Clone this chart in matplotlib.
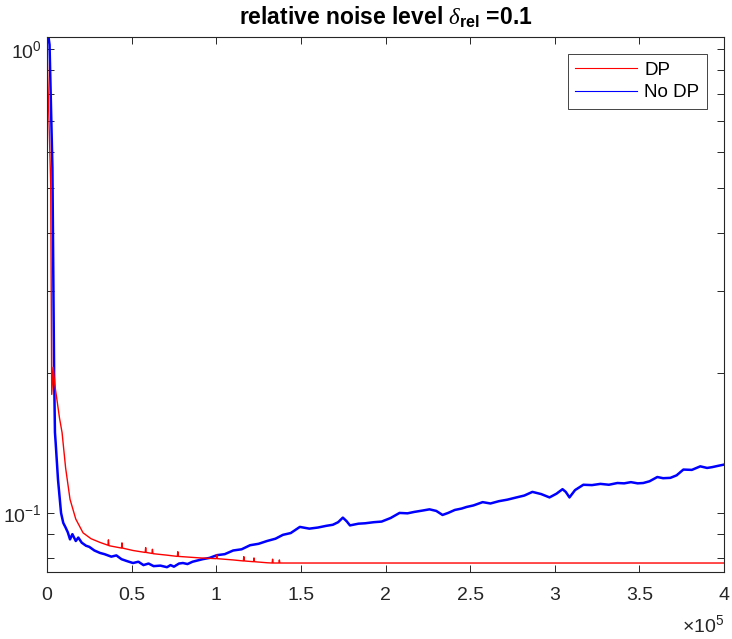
import numpy as np
import matplotlib
matplotlib.use("Agg")
import matplotlib.pyplot as plt
from matplotlib.lines import Line2D
from matplotlib.ticker import FixedLocator, LogLocator, NullFormatter, FixedFormatter

# data (iterations, relative error)
blue_x = [0, 1500, 3200, 4200, 4700, 5100, 6500, 8300, 9600, 11000, 12300, 13600, 15000,
          17000, 18500, 20500, 23000, 25000, 28000, 31300, 34000, 38000, 41000, 44000,
          47000, 50800, 54000, 57000, 60000, 63000, 67000, 70900, 73000, 75000, 78000,
          80300, 83000, 86000, 89000, 92000, 96000, 100400, 105000, 110000, 115000,
          120000, 125000, 130000, 135000, 139400, 144000, 149400, 155000, 160000, 165000,
          168900, 172000, 174800, 177000, 179000, 184000, 188000, 193000, 197700, 203000,
          208300, 213000, 217000, 222000, 226000, 230000, 233700, 237000, 241000, 245000,
          247900, 252000, 257400, 262000, 267000, 272000, 277400, 282000, 286800, 292000,
          296900, 301000, 304600, 306500, 308700, 312000, 316900, 322000, 327000, 332000,
          337000, 341000, 345000, 349000, 352300, 356000, 360600, 364000, 368300, 372000,
          376000, 381000, 386000, 390000, 393000, 396000, 399600]
blue_y = [1.12, 1.02, 0.555, 0.20, 0.149, 0.142, 0.118, 0.100, 0.0952, 0.0930, 0.0908, 0.0877, 0.0900,
          0.0870, 0.0885, 0.0863, 0.0850, 0.0845, 0.0830, 0.0820, 0.0815, 0.0805, 0.0810, 0.0795,
          0.0788, 0.0780, 0.0785, 0.0772, 0.0778, 0.0768, 0.0770, 0.0764, 0.0772, 0.0766, 0.0778,
          0.0780, 0.0776, 0.0785, 0.0790, 0.0795, 0.0800, 0.0811, 0.0815, 0.0830, 0.0835,
          0.0852, 0.0858, 0.0870, 0.0880, 0.0897, 0.0905, 0.0933, 0.0925, 0.0930, 0.0938,
          0.0943, 0.0955, 0.0977, 0.0960, 0.0940, 0.0948, 0.0950, 0.0955, 0.0958, 0.0975,
          0.1000, 0.0998, 0.1005, 0.1012, 0.1018, 0.1010, 0.0990, 0.1000, 0.1015, 0.1022,
          0.1030, 0.1038, 0.1055, 0.1048, 0.1060, 0.1068, 0.1080, 0.1090, 0.1110, 0.1098,
          0.1080, 0.1100, 0.1125, 0.1110, 0.1080, 0.1120, 0.1150, 0.1148, 0.1155, 0.1150,
          0.1160, 0.1158, 0.1165, 0.1158, 0.1160, 0.1170, 0.1195, 0.1188, 0.1190, 0.1205,
          0.1240, 0.1238, 0.1260, 0.1250, 0.1255, 0.1262, 0.1270]

red_x = [0, 2200, 2800, 3700, 4500, 5900, 7400, 8900, 11000, 13600, 17000, 21300, 26000, 31300,
         36000, 36300, 36600, 44000, 44300, 44600, 50800, 58000, 58300, 58600,
         62000, 62300, 62600, 70900, 77000, 77300, 77600, 90400, 100000, 100300,
         100600, 110000, 116000, 116300, 116600, 122000, 122300, 122600, 130000,
         133000, 133300, 133600, 137000, 137300, 137600, 139400, 400000]
red_y = [1.0, 0.51, 0.18, 0.206, 0.19, 0.175, 0.160, 0.149, 0.125, 0.107, 0.097, 0.0906, 0.0880, 0.0864,
         0.0852, 0.0875, 0.0850, 0.0840, 0.0862, 0.0840, 0.0830, 0.0822, 0.0842, 0.0822,
         0.0818, 0.0835, 0.0817, 0.0811, 0.0806, 0.0825, 0.0806, 0.0800, 0.0797, 0.0812,
         0.0797, 0.0792, 0.0788, 0.0805, 0.0788, 0.0785, 0.0800, 0.0785, 0.0781,
         0.0780, 0.0795, 0.0780, 0.0780, 0.0792, 0.0780, 0.0780, 0.0780]

xtick_vals = [0, 50000, 100000, 150000, 200000, 250000, 300000, 350000, 400000]
xtick_labels = ['0', '0.5', '1', '1.5', '2', '2.5', '3', '3.5', '4']

plt.rcParams['font.family'] = ['Liberation Sans', 'DejaVu Sans']
plt.rcParams['mathtext.fontset'] = 'custom'
plt.rcParams['mathtext.rm'] = 'Liberation Sans'
plt.rcParams['mathtext.it'] = 'Liberation Serif:italic'
plt.rcParams['mathtext.bf'] = 'Liberation Sans:bold'

axc = '#262626'
fig = plt.figure(figsize=(7.32, 6.39), dpi=100)
ax = fig.add_axes([47/732, 1-572/639, 677/732, 535/639])

ax.plot(blue_x, blue_y, color='#0000ff', lw=1.8)
ax.plot(red_x, red_y, color='#ff0000', lw=1.0)

ax.set_yscale('log')
ax.set_xlim(0, 400000)
ax.set_ylim(0.0746, 1.06)

ax.xaxis.set_major_locator(FixedLocator(xtick_vals))
ax.xaxis.set_major_formatter(FixedFormatter(xtick_labels))
ax.yaxis.set_major_locator(LogLocator(base=10))
ax.yaxis.set_minor_locator(LogLocator(base=10, subs=np.arange(2, 10)))
ax.yaxis.set_minor_formatter(NullFormatter())

ax.tick_params(which='both', direction='in', top=True, right=True, colors=axc,
               labelsize=14, width=0.7, length=4.8)
ax.tick_params(axis='x', pad=11)
for s in ax.spines.values():
    s.set_color(axc)
    s.set_linewidth(0.8)

ax.set_title(r'relative noise level $\delta_{\mathbf{rel}}$ =0.1', fontsize=16.5,
             fontweight='bold', pad=9)

fig.text(724/732, 1-625/639, r'$\times\mathdefault{10^{5}}$', ha='right', va='center',
         fontsize=14, color=axc)

handles = [Line2D([], [], color='#ff0000', lw=0.8), Line2D([], [], color='#0000ff', lw=0.8)]
leg = ax.legend(handles, ['DP', 'No DP'], loc='upper right',
                bbox_to_anchor=(707/732, 1-54/639), bbox_transform=fig.transFigure,
                fancybox=False, framealpha=1, edgecolor=axc, fontsize=13.5,
                handlelength=3.3, borderpad=0.4, labelspacing=0.3, handletextpad=0.4,
                borderaxespad=0)
leg.get_frame().set_linewidth(0.6)

fig.savefig('out.png', dpi=100)
